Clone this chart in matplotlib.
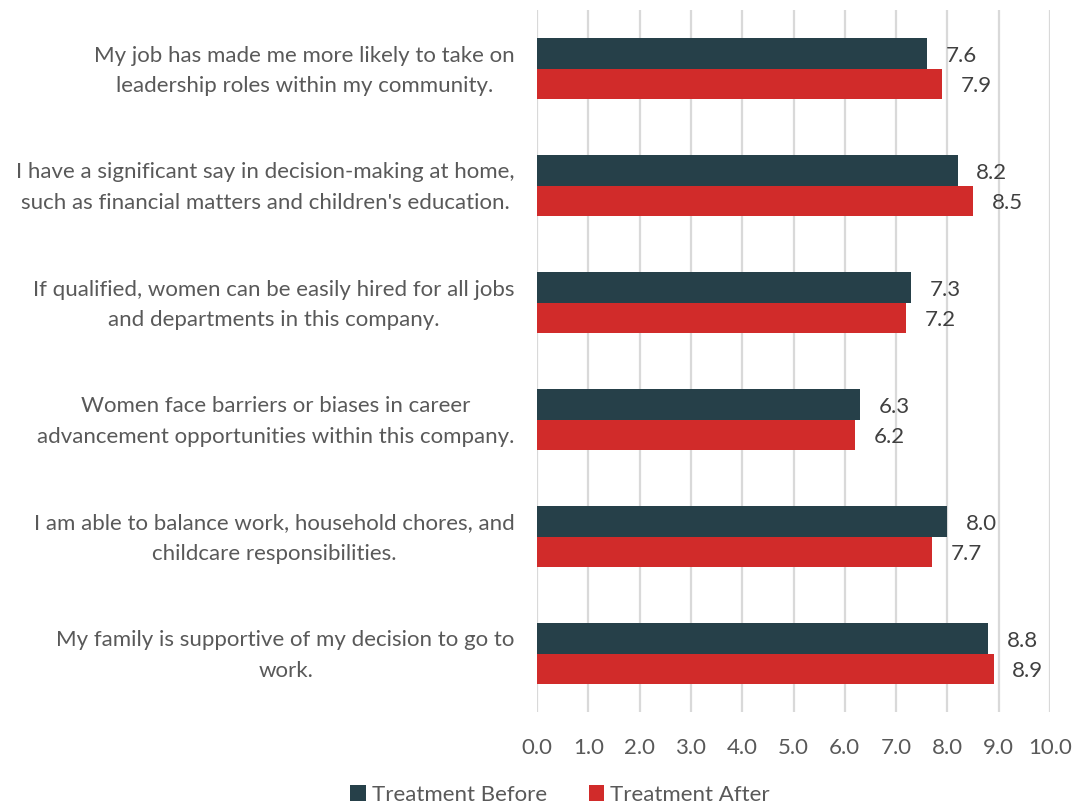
import matplotlib
matplotlib.use("Agg")
import matplotlib.pyplot as plt
import matplotlib.transforms as mtransforms
from matplotlib.patches import Patch
import numpy as np

plt.rcParams['font.family'] = ['Lato', 'DejaVu Sans']

statements = [
    "My job has made me more likely to take on\nleadership roles within my community.",
    "I have a significant say in decision-making at home,\nsuch as financial matters and children's education.",
    "If qualified, women can be easily hired for all jobs\nand departments in this company.",
    "Women face barriers or biases in career\nadvancement opportunities within this company.",
    "I am able to balance work, household chores, and\nchildcare responsibilities.",
    "My family is supportive of my decision to go to\nwork.",
]
before = [7.6, 8.2, 7.3, 6.3, 8.0, 8.8]
after = [7.9, 8.5, 7.2, 6.2, 7.7, 8.9]
series_names = ["Treatment Before", "Treatment After"]
x_ticks = [0.0, 1.0, 2.0, 3.0, 4.0, 5.0, 6.0, 7.0, 8.0, 9.0, 10.0]

c_before = "#264049"
c_after = "#d12b2a"
text_c = "#595959"
grid_c = "#d9d9d9"
fs = 16

fig = plt.figure(figsize=(10.76, 8.06), dpi=100)
ax = fig.add_axes([537 / 1076, 1 - 712 / 806, (1050 - 537) / 1076, (712 - 10) / 806])

y = np.arange(len(statements))
h = 0.26
ax.barh(y - h / 2, before, height=h, color=c_before, zorder=3)
ax.barh(y + h / 2, after, height=h, color=c_after, zorder=3)

for yi, v in zip(y, before):
    ax.text(v + 0.36, yi - h / 2 + 0.02, f"{v:.1f}", va="center", ha="left",
            fontsize=fs, color="#404040")
for yi, v in zip(y, after):
    ax.text(v + 0.36, yi + h / 2 + 0.02, f"{v:.1f}", va="center", ha="left",
            fontsize=fs, color="#404040")

ax.set_ylim(len(statements) - 0.5, -0.5)
ax.set_xlim(0, 10)
ax.set_xticks(x_ticks)
ax.set_xticklabels([f"{t:.1f}" for t in x_ticks], fontsize=fs, color=text_c)
ax.set_yticks(y)
ax.set_yticklabels(statements, fontsize=fs, color=text_c, ha="right",
                   multialignment="center", linespacing=1.68)
ax.tick_params(axis="y", length=0, pad=16)
ax.tick_params(axis="x", length=0, pad=19)
# raise the category labels slightly above the bar-pair centres
lift = mtransforms.ScaledTranslation(0, 0.05, fig.dpi_scale_trans)
for lbl in ax.get_yticklabels():
    lbl.set_transform(lbl.get_transform() + lift)
ax.grid(axis="x", color=grid_c, linewidth=1.6, zorder=0)
for s in ax.spines.values():
    s.set_visible(False)

handles = [Patch(facecolor=c_before), Patch(facecolor=c_after)]
fig.legend(handles, series_names, loc="center", bbox_to_anchor=(560 / 1076, 1 - 795 / 806),
           ncol=2, frameon=False, fontsize=fs, handlelength=0.7, handleheight=0.7,
           handletextpad=0.25, columnspacing=1.9, labelcolor=text_c)

fig.savefig("out.png", dpi=100)
